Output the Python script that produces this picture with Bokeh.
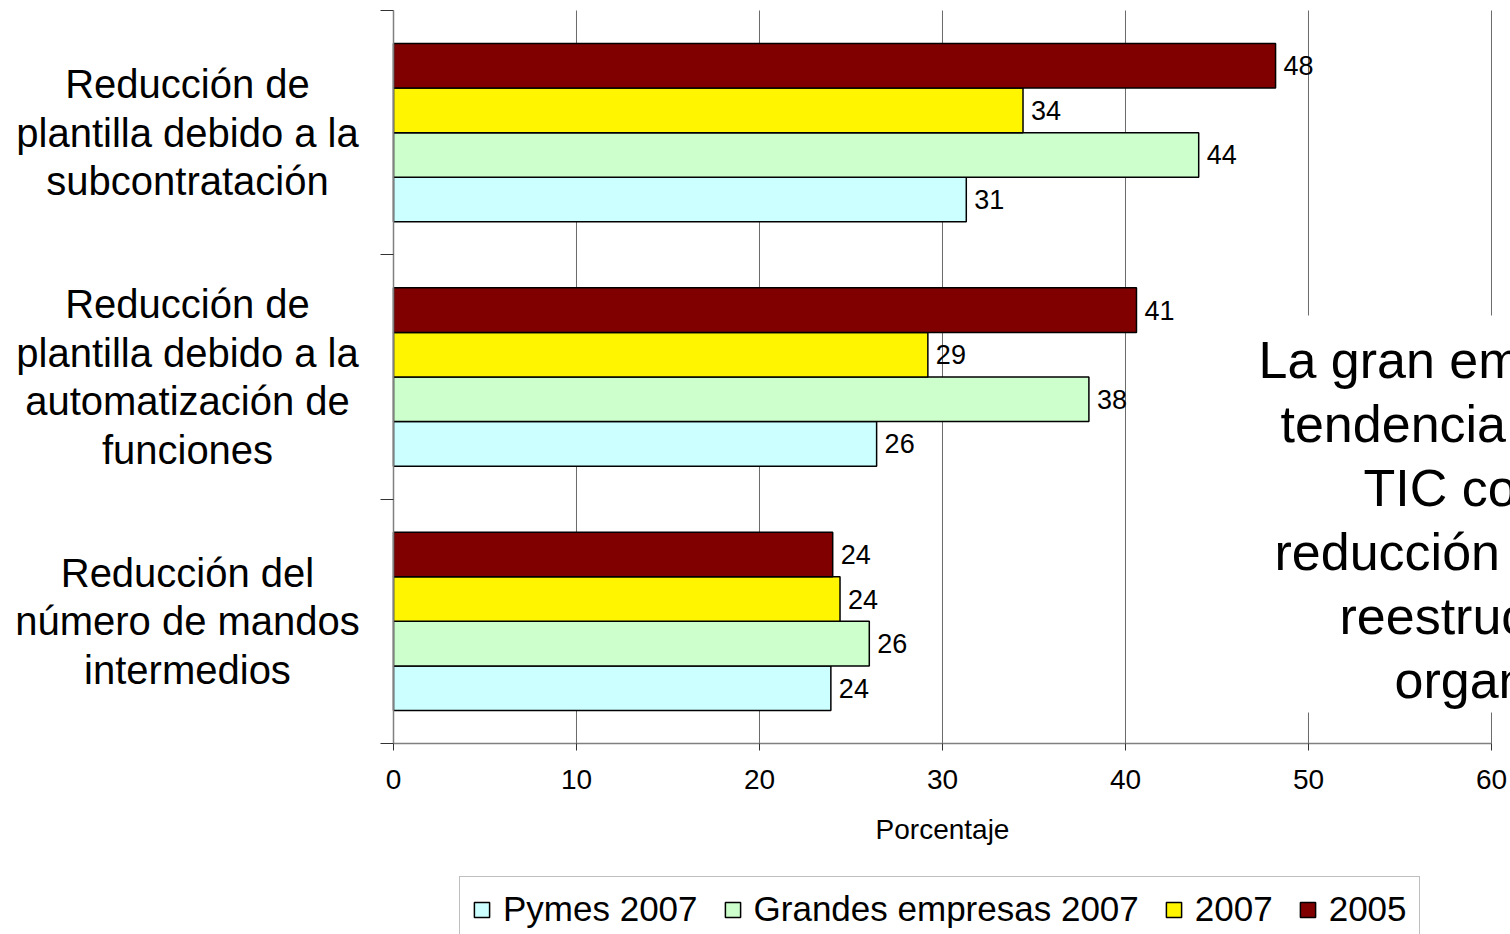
from bokeh.plotting import figure
from bokeh.models import (Range1d, FixedTicker, Legend, LegendItem, Label,
                          BoxAnnotation, ColumnDataSource)
from bokeh.embed import file_html
from bokeh.resources import INLINE
from bokeh.core.properties import value

# ---------------- data ----------------
# categories listed bottom -> top
categories = [
    "Reducción del\nnúmero de mandos\nintermedios",
    "Reducción de\nplantilla debido a la\nautomatización de\nfunciones",
    "Reducción de\nplantilla debido a la\nsubcontratación",
]
series_names = ["Pymes 2007", "Grandes empresas 2007", "2007", "2005"]
pymes_2007 = [23.9, 26.4, 31.3]
grandes_2007 = [26.0, 38.0, 44.0]
total_2007 = [24.4, 29.2, 34.4]
total_2005 = [24.0, 40.6, 48.2]
series_values = [pymes_2007, grandes_2007, total_2007, total_2005]
series_colors = ["#CCFFFF", "#CCFFCC", "#FFF500", "#800000"]
x_ticks = [0, 10, 20, 30, 40, 50, 60]
x_axis_title = "Porcentaje"
note_lines = [
    "La gran empresa muestra mayor",
    "tendencia a utilizar las",
    "TIC con fines de",
    "reducción de plantilla y",
    "reestructuración",
    "organizativa",
]

FONT = "Liberation Sans"
W, H = 1510, 934

# The frame covers the whole canvas; axes sit at fixed data locations.
p = figure(width=W, height=H,
           x_range=Range1d(-21.4754, 61.0383), y_range=Range1d(-0.78172, 3.04093),
           output_backend="svg", toolbar_location=None, min_border=0)
p.outline_line_color = None
p.background_fill_color = "white"
p.border_fill_color = "white"
p.xgrid.visible = False
p.ygrid.visible = False

# ---------------- vertical grid lines ----------------
grid_x = x_ticks[1:]
p.segment(x0=grid_x, x1=grid_x, y0=[0] * len(grid_x), y1=[3] * len(grid_x),
          line_color="#6b6b6b", line_width=1, level="underlay")

# ---------------- bars ----------------
bar_h = 0.1825
offsets = [-1.5, -0.5, 0.5, 1.5]
renderers = []
for name, vals, col, off in zip(series_names, series_values, series_colors, offsets):
    ys = [i + 0.5 + off * bar_h for i in range(len(categories))]
    src = ColumnDataSource(dict(y=ys, v=vals, lab=[str(round(v)) for v in vals]))
    r = p.hbar(y="y", right="v", left=0, height=bar_h, source=src,
               fill_color=col, line_color="black", line_width=1.5)
    renderers.append(r)
    p.text(x="v", y="y", text="lab", source=src, x_offset=8,
           text_baseline="middle", text_align="left",
           text_font=value(FONT), text_font_size=value("27px"),
           text_color="black")

# ---------------- axes ----------------
xa = p.xaxis[0]
xa.fixed_location = 0
xa.bounds = (0, 60)
xa.ticker = FixedTicker(ticks=x_ticks)
xa.axis_line_color = "#808080"
xa.axis_line_width = 1.5
xa.major_tick_line_color = "#333333"
xa.major_tick_out = 7
xa.major_tick_in = 0
xa.minor_tick_line_color = None
xa.major_label_text_font = FONT
xa.major_label_text_font_size = "28px"
xa.major_label_text_color = "black"
xa.major_label_standoff = 20
xa.axis_label = x_axis_title
xa.axis_label_text_font = FONT
xa.axis_label_text_font_size = "28px"
xa.axis_label_text_font_style = "normal"
xa.axis_label_text_color = "black"
xa.axis_label_standoff = 21

ya = p.yaxis[0]
ya.fixed_location = 0
ya.bounds = (0, 3)
ya.ticker = FixedTicker(ticks=[0, 1, 2, 3])
ya.major_label_overrides = {0: "", 1: "", 2: "", 3: ""}
ya.axis_line_color = "#808080"
ya.axis_line_width = 1.5
ya.major_tick_line_color = "#333333"
ya.major_tick_out = 13
ya.major_tick_in = 0
ya.minor_tick_line_color = None

# category labels (centered multi-line text left of the axis)
for i, cat in enumerate(categories):
    p.add_layout(Label(x=187, x_units="screen", y=i + 0.5, y_units="data",
                       text=cat, text_align="center", text_baseline="middle",
                       text_font=FONT, text_font_size="40px",
                       text_line_height=1.1, text_color="black"))

# ---------------- overlay text box ----------------
p.add_layout(BoxAnnotation(left=45, right=None, bottom=0.127, top=1.752,
                           fill_color="white", fill_alpha=1.0,
                           line_color=None, level="annotation"))
note_x = [1258, 1280, 1363, 1274, 1339, 1394]
note_base = [359, 423, 487, 551, 615, 679]
for txt, nx, nb in zip(note_lines, note_x, note_base):
    p.add_layout(Label(x=nx, y=H - nb, x_units="screen", y_units="screen",
                       text=txt, text_align="left", text_baseline="alphabetic",
                       text_font=FONT, text_font_size="52px",
                       text_color="black", level="overlay"))

# ---------------- legend ----------------
legend = Legend(items=[LegendItem(label=n, renderers=[r])
                       for n, r in zip(series_names, renderers)],
                orientation="horizontal", location=(459, -8),
                border_line_color="#808080", border_line_width=1.5,
                background_fill_color="white", background_fill_alpha=1.0,
                label_text_font=FONT, label_text_font_size="35px",
                label_text_color="black",
                glyph_width=19, glyph_height=19, label_standoff=12,
                spacing=25, padding=12, margin=0)
p.add_layout(legend, "center")

open("out.html", "w").write(file_html(p, INLINE))
